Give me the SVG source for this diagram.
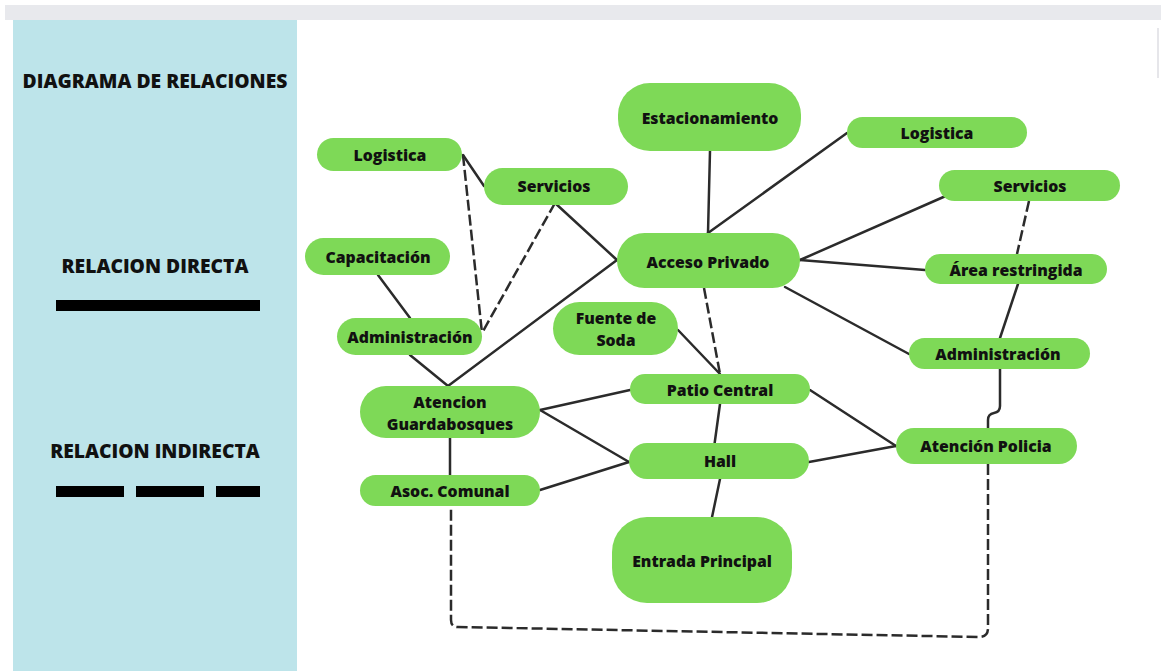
<svg xmlns="http://www.w3.org/2000/svg" width="1161" height="671" viewBox="0 0 1161 671">
<style>
.n{fill:#7ed957}
.t{font-family:"Open Sans","Noto Sans",sans-serif;font-weight:800;font-size:15.8px;fill:#111;text-anchor:middle;dominant-baseline:central}
.h{font-family:"Open Sans","Noto Sans",sans-serif;font-weight:800;font-size:19.3px;fill:#111;text-anchor:middle;dominant-baseline:central}
.s{stroke:#2b2b2b;stroke-width:2.5;fill:none;stroke-linecap:round}
.d{stroke:#2b2b2b;stroke-width:2.5;fill:none;stroke-dasharray:11 4}
</style>
<rect x="0" y="0" width="1161" height="671" fill="#ffffff"/>
<rect x="5" y="5" width="1156" height="15" fill="#e8e9ed"/>
<rect x="13" y="20" width="284" height="651" fill="#bde4ea"/>
<line x1="1158" y1="28" x2="1158" y2="78" stroke="#e6e6ea" stroke-width="2"/>
<g id="legend">
<text class="h" x="155" y="80">DIAGRAMA DE RELACIONES</text>
<text class="h" x="155" y="265">RELACION DIRECTA</text>
<rect x="56" y="300" width="204" height="11" fill="#000"/>
<text class="h" x="155" y="450">RELACION INDIRECTA</text>
<rect x="56" y="486" width="68" height="11" fill="#000"/>
<rect x="136" y="486" width="68" height="11" fill="#000"/>
<rect x="216" y="486" width="44" height="11" fill="#000"/>
</g>
<g id="connectors">
<line class="s" x1="463" y1="155" x2="484" y2="186"/>
<line class="s" x1="555" y1="203" x2="617" y2="260"/>
<line class="s" x1="617" y1="260" x2="448" y2="386"/>
<line class="s" x1="410" y1="355" x2="448" y2="386"/>
<line class="s" x1="378" y1="275" x2="410" y2="318"/>
<line class="d" x1="463" y1="155" x2="482" y2="333"/>
<line class="d" x1="555" y1="203" x2="482" y2="333"/>
<line class="s" x1="710" y1="151" x2="708" y2="233"/>
<line class="s" x1="847" y1="133" x2="708" y2="233"/>
<line class="s" x1="948" y1="195" x2="800" y2="260"/>
<line class="s" x1="800" y1="260" x2="925" y2="270"/>
<line class="s" x1="785" y1="287" x2="909" y2="354"/>
<line class="d" x1="1029" y1="201" x2="1017" y2="254"/>
<line class="s" x1="1018" y1="284" x2="1000" y2="338"/>
<path class="s" d="M1000 369 V406 Q1000 412 994 413 Q988 414 988 420 V428"/>
<path class="d" d="M988 464 V628 Q988 637 979 637 L458 627 Q451 627 451 620 V506"/>
<line class="s" x1="450" y1="438" x2="450" y2="475"/>
<line class="s" x1="540" y1="410" x2="630" y2="390"/>
<line class="s" x1="540" y1="410" x2="629" y2="462"/>
<line class="s" x1="540" y1="490" x2="629" y2="462"/>
<line class="s" x1="678" y1="330" x2="720" y2="374"/>
<line class="d" x1="704" y1="288" x2="720" y2="374"/>
<line class="s" x1="720" y1="404" x2="713" y2="455"/>
<line class="s" x1="720" y1="479" x2="711" y2="522"/>
<line class="s" x1="810" y1="390" x2="896" y2="446"/>
<line class="s" x1="809" y1="462" x2="896" y2="446"/>
</g>
<g id="logistica-izq"><rect class="n" x="317" y="138" width="145" height="33" rx="16.5"/><text class="t" x="390" y="155">Logistica</text></g>
<g id="servicios-izq"><rect class="n" x="484" y="168" width="144" height="37" rx="18.5"/><text class="t" x="554" y="186">Servicios</text></g>
<g id="capacitacion"><rect class="n" x="305" y="238" width="145" height="37" rx="18.5"/><text class="t" x="378" y="257">Capacitación</text></g>
<g id="administracion-izq"><rect class="n" x="337" y="318" width="145" height="37" rx="18.5"/><text class="t" x="410" y="337">Administración</text></g>
<g id="estacionamiento"><rect class="n" x="618" y="83" width="183" height="68" rx="32"/><text class="t" x="710" y="118">Estacionamiento</text></g>
<g id="logistica-der"><rect class="n" x="847" y="117" width="180" height="31" rx="15.5"/><text class="t" x="937" y="133">Logistica</text></g>
<g id="servicios-der"><rect class="n" x="939" y="170" width="181" height="31" rx="15.5"/><text class="t" x="1030" y="186">Servicios</text></g>
<g id="acceso-privado"><rect class="n" x="617" y="233" width="183" height="55" rx="27.5"/><text class="t" x="708" y="262">Acceso Privado</text></g>
<g id="area-restringida"><rect class="n" x="925" y="254" width="182" height="30" rx="15"/><text class="t" x="1016" y="270">Área restringida</text></g>
<g id="fuente-soda"><rect class="n" x="553" y="302" width="125" height="53" rx="26.5"/><text class="t" x="616" y="318">Fuente de</text><text class="t" x="616" y="340">Soda</text></g>
<g id="administracion-der"><rect class="n" x="909" y="338" width="181" height="31" rx="15.5"/><text class="t" x="998" y="354">Administración</text></g>
<g id="patio-central"><rect class="n" x="630" y="374" width="180" height="30" rx="15"/><text class="t" x="720" y="390">Patio Central</text></g>
<g id="atencion-guardabosques"><rect class="n" x="360" y="386" width="180" height="52" rx="26"/><text class="t" x="450" y="402">Atencion</text><text class="t" x="450" y="424">Guardabosques</text></g>
<g id="atencion-policia"><rect class="n" x="896" y="428" width="181" height="36" rx="18"/><text class="t" x="986" y="446">Atención Policia</text></g>
<g id="hall"><rect class="n" x="629" y="443" width="180" height="36" rx="18"/><text class="t" x="720" y="461">Hall</text></g>
<g id="asoc-comunal"><rect class="n" x="360" y="475" width="180" height="31" rx="15.5"/><text class="t" x="450" y="491">Asoc. Comunal</text></g>
<g id="entrada-principal"><rect class="n" x="612" y="517" width="180" height="86" rx="35"/><text class="t" x="702" y="561">Entrada Principal</text></g>
</svg>
